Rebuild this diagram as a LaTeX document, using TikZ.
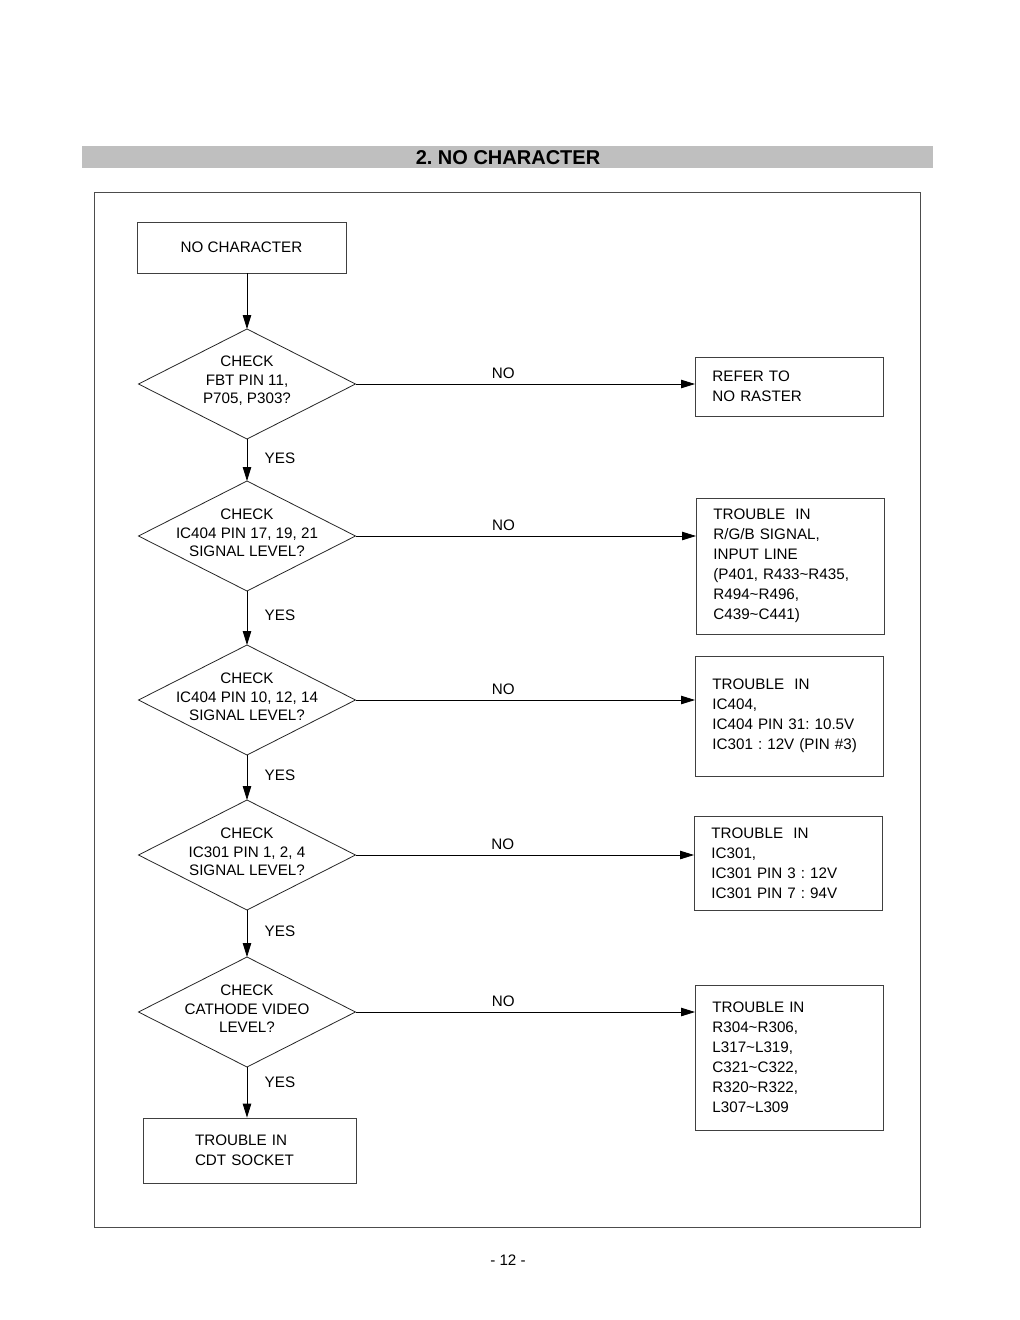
\documentclass[tikz,border=0pt]{standalone}
\usepackage{fontspec}
\setmainfont{Liberation Sans}
\usetikzlibrary{arrows.meta,shapes.geometric}
\frenchspacing
\tikzset{
	txt/.style={font=\fontsize{15.2}{20}\selectfont},
	box/.style={txt, draw=black!75, line width=0.8pt, rectangle, inner ysep=0pt},
	result/.style={box, anchor=west, minimum width=188pt, text width=154pt, inner xsep=17pt, align=left},
	decision/.style={draw=black!85, line width=0.8pt, diamond, minimum width=217pt, minimum height=110pt, inner sep=0pt, outer sep=0pt},
	dtext/.style={font=\fontsize{15.2}{18.5}\selectfont, align=center, yshift=3pt},
	flow/.style={line width=0.8pt, -{Triangle[length=14pt,width=8.5pt]}},
	nolab/.style={txt, above=2pt, pos=0.435},
	yeslab/.style={txt, right=14pt, pos=0.45}
}
\begin{document}
\begin{tikzpicture}[x=1pt, y=-1pt]
	%%%%% START %%%%%
	\useasboundingbox[fill=white] (0,0) rectangle (1020,1320);

	% title bar and frame
	\fill[black!25] (82,146) rectangle (933,168);
	\node[font=\bfseries\fontsize{20}{24}\selectfont] (title) at (508,157.5) {2. NO CHARACTER};
	\draw[black!70, line width=0.8pt] (94,192) rectangle (920,1227);

	% left column
	\node[box, minimum width=209pt, minimum height=51pt] (start) at (241.5,247.5) {NO CHARACTER};
	\node[decision, label={[dtext]center:{CHECK\\FBT PIN 11,\\P705, P303?}}] (d1) at (247,384) {};
	\node[decision, label={[dtext]center:{CHECK\\IC404 PIN 17, 19, 21\\SIGNAL LEVEL?}}] (d2) at (247,536) {};
	\node[decision, label={[dtext]center:{CHECK\\IC404 PIN 10, 12, 14\\SIGNAL LEVEL?}}] (d3) at (247,700) {};
	\node[decision, label={[dtext]center:{CHECK\\IC301 PIN 1, 2, 4\\SIGNAL LEVEL?}}] (d4) at (247,855) {};
	\node[decision, label={[dtext]center:{CHECK\\CATHODE VIDEO\\LEVEL?}}] (d5) at (247,1012) {};
	\node[box, minimum width=213pt, minimum height=65pt, text width=109pt, inner xsep=52pt, align=left] (cdt) at (249.5,1150.5) {TROUBLE IN\\CDT SOCKET};

	% right column
	\node[result, minimum height=59pt] (r1) at (695,386.5) {REFER TO\\NO RASTER};
	\node[result, minimum height=136pt] (r2) at (696,566) {TROUBLE~~IN\\R/G/B SIGNAL,\\INPUT LINE\\(P401, R433\char`~R435,\\R494\char`~R496,\\C439\char`~C441)};
	\node[result, minimum height=120pt] (r3) at (695,716) {TROUBLE~~IN\\IC404,\\IC404 PIN 31: 10.5V\\IC301 : 12V (PIN \#3)};
	\node[result, minimum height=94pt] (r4) at (694,863) {TROUBLE~~IN\\IC301,\\IC301 PIN 3 : 12V\\IC301 PIN 7 : 94V};
	\node[result, minimum height=145pt] (r5) at (695,1057.5) {TROUBLE IN\\R304\char`~R306,\\L317\char`~L319,\\C321\char`~C322,\\R320\char`~R322,\\L307\char`~L309};

	% YES path
	\draw[flow] (start.south -| d1.north) -- (d1.north);
	\draw[flow] (d1.south) -- node[yeslab] {YES} (d2.north);
	\draw[flow] (d2.south) -- node[yeslab] {YES} (d3.north);
	\draw[flow] (d3.south) -- node[yeslab] {YES} (d4.north);
	\draw[flow] (d4.south) -- node[yeslab] {YES} (d5.north);
	\draw[flow] (d5.south) -- node[yeslab, pos=0.3] {YES} (cdt.north -| d5.south);

	% NO path
	\draw[flow] (d1.east) -- node[nolab] {NO} (r1.west |- d1.east);
	\draw[flow] (d2.east) -- node[nolab] {NO} (r2.west |- d2.east);
	\draw[flow] (d3.east) -- node[nolab] {NO} (r3.west |- d3.east);
	\draw[flow] (d4.east) -- node[nolab] {NO} (r4.west |- d4.east);
	\draw[flow] (d5.east) -- node[nolab] {NO} (r5.west |- d5.east);

	\node[txt] (page) at (508,1260) {- 12 -};
	%%%%% END %%%%%
\end{tikzpicture}
\end{document}
